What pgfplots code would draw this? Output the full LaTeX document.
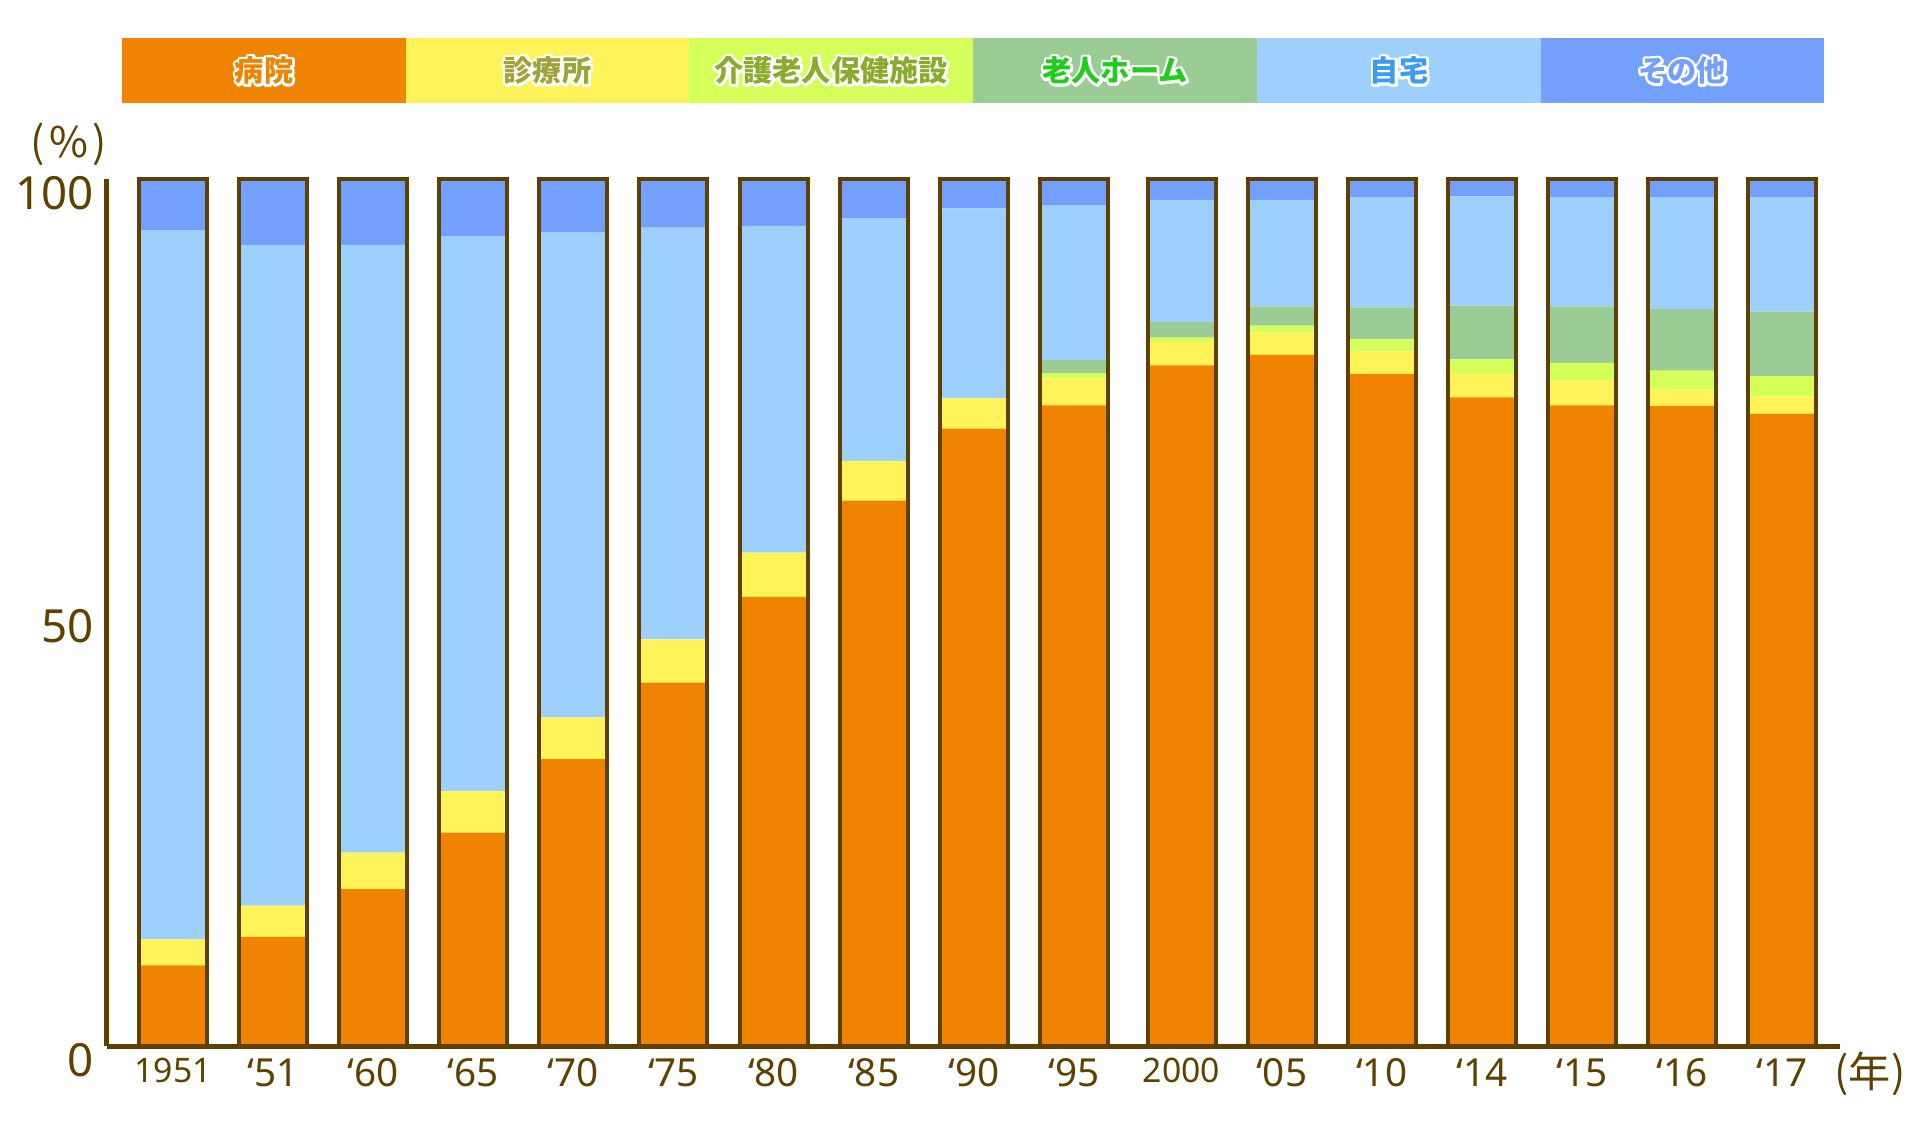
\documentclass[border=0pt]{standalone}
\usepackage{pgfplots}
\pgfplotsset{compat=1.18}
\usepackage{pgfplotstable}
\usepackage{fontspec}
\setmainfont{Noto Sans}
\newfontfamily\jp{Noto Sans CJK JP}

\definecolor{brn}{HTML}{5F4000}
\definecolor{cHosp}{HTML}{F08300}
\definecolor{cClin}{HTML}{FFF35A}
\definecolor{cRoken}{HTML}{D4FF58}
\definecolor{cRhome}{HTML}{9CCC96}
\definecolor{cHome}{HTML}{9DD0FF}
\definecolor{cOther}{HTML}{739FFF}
\definecolor{tClin}{HTML}{9DA53A}
\definecolor{tRoken}{HTML}{8AAB2C}
\definecolor{tRhome}{HTML}{22CC1E}
\definecolor{tHome}{HTML}{3C9CF5}

% place of death, percent
\pgfplotstableread{
x      hosp clin roken rhome jitaku other tot
0      9.3  3.0  0    0     81.8   5.9   100
1      12.6 3.6  0    0     76.2   7.6   100
2      18.1 4.2  0    0     70.1   7.6   100
3      24.6 4.8  0    0     64.0   6.6   100
4      33.1 4.8  0    0     55.9   6.2   100
5      41.9 5.0  0    0     47.5   5.6   100
6      51.8 5.1  0    0     37.7   5.4   100
7      62.9 4.6  0    0     28.0   4.5   100
8      71.2 3.5  0    0     21.9   3.4   100
9      73.9 3.1  0.6  1.5   17.9   3.0   100
10.076 78.5 2.7  0.5  1.8   14.1   2.4   100
11.076 79.7 2.6  0.8  2.2   12.3   2.4   100
12.076 77.5 2.6  1.4  3.7   12.7   2.1   100
13.076 74.8 2.7  1.7  6.2   12.6   2.0   100
14.076 73.9 2.9  2.0  6.5   12.6   2.1   100
15.076 73.8 1.9  2.2  7.1   12.9   2.1   100
16.076 72.9 2.0  2.4  7.4   13.2   2.1   100
}\deaths

% white outlined label: a stroked white copy under the coloured text
\newcommand\halo[4]{%
  \node[text=white] at (#1,#2) {\special{pdf:literal direct 2 Tr 1.5 w 1 j 1 J}#4\special{pdf:literal direct 0 Tr}};
  \node[text=#3] at (#1,#2) {#4};}

\pgfplotsset{
  frame/.style={
    at={(10.65mm,-104.6mm)}, anchor=south west,
    scale only axis, width=173.3mm, height=86.7mm,
    xmin=-0.665, xmax=16.65, ymin=0, ymax=100,
    bar width=6.8mm, clip=false,
  },
}

\begin{document}
\begin{tikzpicture}
\useasboundingbox (0,0) rectangle (192mm,-112.7mm);

% legend strip
\foreach \c [count=\i from 0] in {cHosp,cClin,cRoken,cRhome,cHome,cOther}
  \fill[\c] (12.2mm+\i*28.37mm,-3.8mm) rectangle ++(28.37mm,-6.5mm);
\begin{scope}[font=\jp\bfseries\fontsize{8.3}{9}\selectfont]
\halo{26.4mm}{-7.05mm}{cHosp}{病院}
\halo{54.75mm}{-7.05mm}{tClin}{診療所}
\halo{83.1mm}{-7.05mm}{tRoken}{介護老人保健施設}
\halo{111.5mm}{-7.05mm}{tRhome}{老人ホーム}
\halo{139.9mm}{-7.05mm}{tHome}{自宅}
\halo{168.2mm}{-7.05mm}{cOther}{その他}
\end{scope}

\begin{axis}[frame,
  ybar stacked,
  axis x line*=bottom, axis y line*=left,
  axis line style={brn, line width=0.5mm, -},
  xtick={0,1,2,3,4,5,6,7,8,9,10.076,11.076,12.076,13.076,14.076,15.076,16.076},
  xticklabels={{\fontsize{9.6}{10}\selectfont 1951},‘51,‘60,‘65,‘70,‘75,‘80,‘85,‘90,‘95,
    {\fontsize{9.6}{10}\selectfont 2000},‘05,‘10,‘14,‘15,‘16,‘17},
  ytick={0,50,100},
  major tick length=0,
  /pgf/number format/assume math mode=true,
  tick label style={text=brn},
  xticklabel style={font=\fontsize{11}{11}\selectfont},
  yticklabel style={font=\fontsize{13}{13}\selectfont, yshift=-1.4mm},
]
\addplot[fill=cHosp, draw=none] table[x=x, y=hosp] {\deaths};
\addplot[fill=cClin, draw=none] table[x=x, y=clin] {\deaths};
\addplot[fill=cRoken, draw=none] table[x=x, y=roken] {\deaths};
\addplot[fill=cRhome, draw=none] table[x=x, y=rhome] {\deaths};
\addplot[fill=cHome, draw=none] table[x=x, y=jitaku] {\deaths};
\addplot[fill=cOther, draw=none] table[x=x, y=other] {\deaths};
\end{axis}

% bar outlines
\begin{axis}[frame, hide axis, ybar]
\addplot[draw=brn, line width=0.4mm, fill=none] table[x=x, y=tot] {\deaths};
\end{axis}

\node[text=brn, font=\jp\fontsize{12}{12}\selectfont] at (6.86mm,-14.45mm) {(\kern0.1em\%\kern0.1em)};
\node[text=brn, font=\jp\fontsize{12}{12}\selectfont] at (187mm,-107.4mm) {(年)};
\end{tikzpicture}
\end{document}
